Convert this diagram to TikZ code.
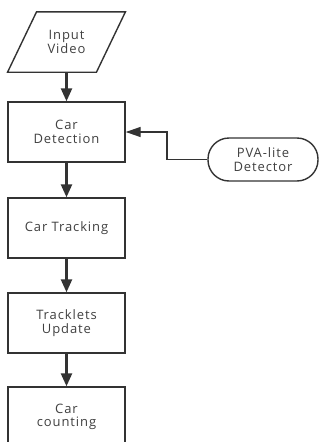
\documentclass[tikz,border=0pt]{standalone}
\usepackage{fontspec}
\setmainfont{Open Sans}[LetterSpace=7]
\usetikzlibrary{arrows.meta}

\definecolor{linegray}{HTML}{333333}
\definecolor{textgray}{HTML}{404040}

\tikzset{
    label font/.style={font=\fontsize{13}{13.5}\selectfont},
    block/.style={draw=linegray, line width=1.4pt, minimum width=117pt,
        minimum height=60pt, align=center, text=textgray, label font},
    io/.style={minimum width=88.5pt, minimum height=60pt, align=center,
        text=textgray, label font},
    term/.style={draw=linegray, line width=1.4pt, rounded corners=21pt,
        minimum width=110pt, minimum height=43pt, align=center, text=textgray,
        label font},
    flow/.style={draw=linegray, line width=2.4pt, -{Triangle[length=13pt,width=11pt]}},
    feed/.style={draw=linegray, line width=1.4pt, -{Triangle[length=15pt,width=10pt]}}
}

\begin{document}
\begin{tikzpicture}[x=1pt, y=-1pt]
    \useasboundingbox (0,0) rectangle (321,442);
    \clip (0,0) rectangle (321,442);

    % main chain
    \node[io] (input) at (66.5,42) {Input\\Video};
    \draw[linegray, line width=1.4pt]
        ([xshift=14.5pt]input.north west) -- ([xshift=14.5pt]input.north east)
        -- ([xshift=-14.5pt]input.south east) -- ([xshift=-14.5pt]input.south west) -- cycle;
    \node[block] (det) at (66.5,132) {Car\\Detection};
    \node[block] (track) at (66.5,228) {Car Tracking};
    \node[block] (update) at (66.5,323) {Tracklets\\Update};
    \node[block] (count) at (66.5,417) {Car\\counting};

    % side input
    \node[term] (pva) at (263,159.5) {PVA-lite\\Detector};
    \coordinate (bend) at (167,132);

    \draw[flow] (input) -- (det);
    \draw[flow] (det) -- (track);
    \draw[flow] (track) -- (update);
    \draw[flow] (update) -- (count);
    \draw[feed] (pva.west) -| (bend) -- (det.east);
\end{tikzpicture}
\end{document}
